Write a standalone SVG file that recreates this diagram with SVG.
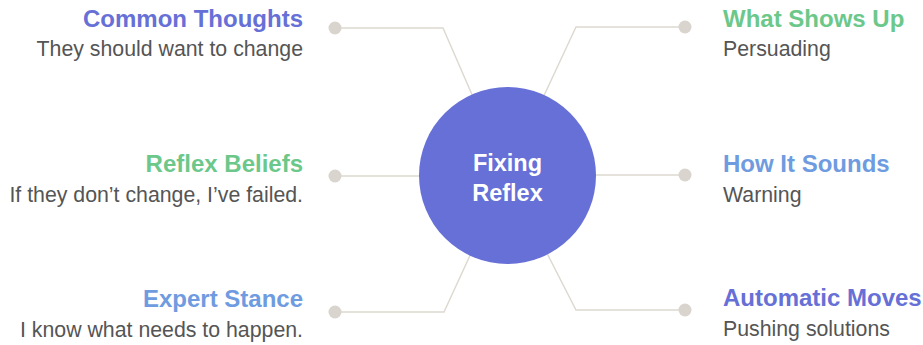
<svg xmlns="http://www.w3.org/2000/svg" width="923" height="345" viewBox="0 0 923 345">
<style>
.t{font-family:"Liberation Sans",Arial,sans-serif;font-weight:bold;font-size:24px}
.s{font-family:"Liberation Sans",Arial,sans-serif;font-size:21.3px;fill:#555}
.l{text-anchor:end}
.p{fill:#6670d6}.g{fill:#6cc88a}.b{fill:#6f9be0}
.c{fill:none;stroke:#ddd8d0;stroke-width:1.4}
.d{fill:#d9d4cd}
.ct{font-family:"Liberation Sans",Arial,sans-serif;font-weight:bold;font-size:23.5px;fill:#fff;text-anchor:middle}
</style>
<rect width="923" height="345" fill="#fff"/>
<g id="connectors">
<polyline class="c" points="335,28 443,28 507,175"/>
<polyline class="c" points="685,27 576,27 507,175"/>
<polyline class="c" points="335,176 507,176"/>
<polyline class="c" points="685,175 507,175"/>
<polyline class="c" points="335,312 444,312 507,175"/>
<polyline class="c" points="685,310 576,310 507,175"/>
<circle class="d" cx="335" cy="28" r="6.5"/>
<circle class="d" cx="685" cy="27" r="6.5"/>
<circle class="d" cx="335" cy="176" r="6.5"/>
<circle class="d" cx="685" cy="175" r="6.5"/>
<circle class="d" cx="335" cy="312" r="6.5"/>
<circle class="d" cx="685" cy="310" r="6.5"/>
</g>
<g id="center">
<circle cx="507.5" cy="175.5" r="88.5" fill="#6670d6"/>
<text class="ct" x="507.5" y="171">Fixing</text>
<text class="ct" x="507.5" y="201">Reflex</text>
</g>
<g id="common-thoughts">
<text class="t p l" x="303" y="27">Common Thoughts</text>
<text class="s l" x="303" y="56">They should want to change</text>
</g>
<g id="reflex-beliefs">
<text class="t g l" x="303" y="172">Reflex Beliefs</text>
<text class="s l" x="303" y="202">If they don’t change, I’ve failed.</text>
</g>
<g id="expert-stance">
<text class="t b l" x="303" y="307">Expert Stance</text>
<text class="s l" x="303" y="337">I know what needs to happen.</text>
</g>
<g id="what-shows-up">
<text class="t g" x="723" y="27">What Shows Up</text>
<text class="s" x="723" y="56">Persuading</text>
</g>
<g id="how-it-sounds">
<text class="t b" x="723" y="172">How It Sounds</text>
<text class="s" x="723" y="202">Warning</text>
</g>
<g id="automatic-moves">
<text class="t p" x="723" y="306">Automatic Moves</text>
<text class="s" x="723" y="336">Pushing solutions</text>
</g>
</svg>
